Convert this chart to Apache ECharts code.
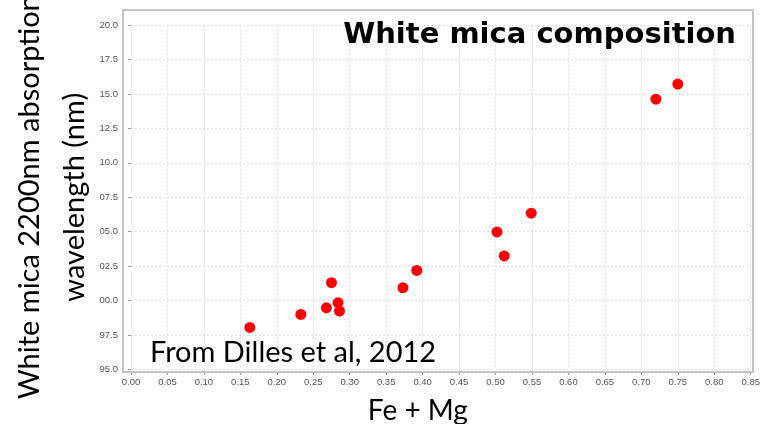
<!DOCTYPE html>
<html>
<head>
<meta charset="utf-8">
<script src="https://cdn.jsdelivr.net/npm/echarts@6/dist/echarts.min.js"></script>
<style>
  html, body { margin: 0; padding: 0; background: #fff; }
  #chart { width: 764px; height: 424px; }
</style>
</head>
<body>
<div id="chart"></div>
<script>
// Fe + Mg content (apfu) of each white mica sample
const feMg = [0.163, 0.233, 0.268, 0.275, 0.284, 0.286, 0.373, 0.392, 0.502, 0.512, 0.549, 0.720, 0.750];
// Position of the 2200 nm absorption feature (nm)
const wavelength = [2198.05, 2199.0, 2199.48, 2201.3, 2199.85, 2199.24, 2200.94, 2202.19, 2204.98, 2203.24, 2206.34, 2214.62, 2215.71];
// Abbreviated wavelength tick labels, bottom to top (2195.0 ... 2220.0)
const yTickLabels = ['95.0', '97.5', '00.0', '02.5', '05.0', '07.5', '10.0', '12.5', '15.0', '17.5', '20.0'];
const yMin = 2195, yMax = 2220, yStep = 2.5;

const points = feMg.map((x, i) => [x, wavelength[i]]);

const chart = echarts.init(document.getElementById('chart'), null, { renderer: 'canvas' });

const tickFont = { color: '#555', fontSize: 9.5, fontFamily: 'Liberation Sans' };
const gridLine = { show: true, lineStyle: { color: '#e2e2e2', type: [2, 2], width: 1 } };

chart.setOption({
  animation: false,
  backgroundColor: '#fff',
  grid: {
    left: 131, right: 13.3, top: 25, bottom: 54.5,
    containLabel: false,
    outerBoundsMode: 'none'
  },
  xAxis: {
    type: 'value',
    min: 0, max: 0.85, interval: 0.05,
    offset: 2.5,
    axisLine: { show: false },
    axisTick: { show: true, length: 3, lineStyle: { color: '#999' } },
    axisLabel: { ...tickFont, margin: 5, formatter: v => v.toFixed(2) },
    splitLine: gridLine,
    name: 'Fe + Mg',
    nameLocation: 'middle',
    nameGap: 25,
    nameTextStyle: { fontFamily: 'Lato', fontSize: 28, color: '#000', padding: [0, 46, 0, 0] }
  },
  yAxis: {
    type: 'value',
    min: yMin, max: yMax, interval: yStep,
    offset: 8,
    axisLine: { show: false },
    axisTick: { show: true, length: 3, lineStyle: { color: '#999' } },
    axisLabel: { ...tickFont, margin: 5, formatter: v => yTickLabels[Math.round((v - yMin) / yStep)] },
    splitLine: gridLine,
    name: 'White mica 2200nm absorption\nwavelength (nm)',
    nameLocation: 'middle',
    nameRotate: 90,
    nameGap: 26,
    nameMoveOverlap: false,
    nameTextStyle: { fontFamily: 'Lato', fontSize: 29, color: '#000', lineHeight: 45 }
  },
  graphic: [
    {
      type: 'rect',
      shape: { x: 123, y: 10, width: 630, height: 362 },
      style: { fill: 'none', stroke: '#c4c4c4', lineWidth: 2 },
      silent: true, z: 1
    },
    {
      type: 'text',
      right: 28, top: 21,
      style: { text: 'White mica composition', font: 'bold 29px "DejaVu Sans"', fill: '#000' },
      z: 10
    },
    {
      type: 'text',
      left: 150, top: 338,
      style: { text: 'From Dilles et al, 2012', font: '29px Lato', fill: '#000' },
      z: 10
    }
  ],
  series: [{
    type: 'scatter',
    data: points,
    symbol: 'circle',
    symbolSize: 11,
    itemStyle: { color: '#ff0000', opacity: 1 },
    z: 5
  }]
});
</script>
</body>
</html>
